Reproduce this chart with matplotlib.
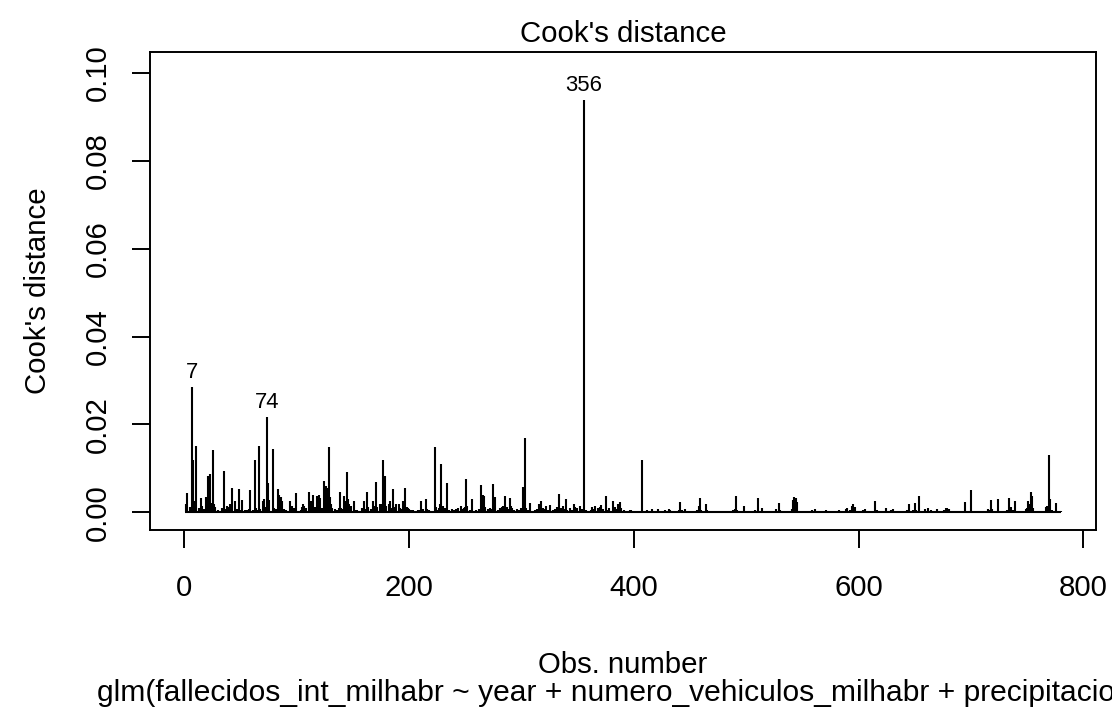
import matplotlib
matplotlib.use('Agg')
import matplotlib.pyplot as plt
import numpy as np

plt.rcParams['font.family'] = ['Liberation Sans', 'DejaVu Sans']

n_obs = 780

# observation number -> Cook's distance (observations not listed are ~0)
spike_obs = [
    2, 3, 5, 7, 8, 9, 11, 13, 15, 16, 18, 20, 21, 23, 24, 26, 27, 28, 30, 32,
    34, 36, 37, 38, 40, 41, 43, 45, 47, 49, 50, 52, 54, 56, 58, 59, 61, 63, 64, 66,
    67, 68, 70, 71, 72, 74, 75, 76, 79, 80, 82, 84, 85, 86, 87, 89, 91, 94, 96, 98,
    100, 102, 104, 105, 106, 107, 109, 111, 112, 113, 115, 117, 118, 119, 120, 121, 123, 125, 126, 127,
    129, 130, 131, 132, 134, 136, 138, 139, 140, 141, 142, 144, 145, 146, 147, 149, 151, 152, 154, 156,
    158, 160, 161, 163, 164, 166, 168, 169, 171, 172, 174, 175, 177, 178, 179, 180, 182, 183, 184, 186,
    187, 189, 191, 192, 194, 195, 197, 198, 199, 200, 202, 204, 206, 208, 209, 211, 213, 215, 216, 218,
    220, 222, 223, 224, 225, 227, 228, 229, 230, 232, 234, 236, 238, 240, 242, 244, 246, 247, 249, 250,
    251, 252, 254, 256, 258, 260, 262, 264, 265, 266, 267, 268, 270, 272, 273, 275, 276, 277, 279, 281,
    283, 284, 286, 287, 288, 290, 291, 292, 294, 296, 298, 300, 302, 303, 304, 306, 308, 310, 312, 314,
    316, 318, 319, 321, 322, 324, 326, 328, 330, 332, 334, 335, 337, 338, 340, 341, 343, 345, 347, 348,
    350, 352, 354, 356, 358, 360, 362, 363, 365, 366, 368, 370, 371, 373, 375, 376, 378, 380, 382, 383,
    385, 386, 388, 389, 391, 393, 395, 397, 398, 400, 402, 404, 407, 408, 410, 412, 414, 416, 418, 420,
    422, 425, 428, 431, 432, 435, 438, 440, 441, 443, 446, 448, 451, 454, 456, 458, 459, 460, 462, 464,
    465, 467, 470, 472, 475, 478, 480, 483, 486, 488, 490, 491, 492, 495, 498, 499, 502, 505, 508, 511,
    512, 514, 516, 519, 522, 525, 527, 529, 530, 533, 536, 539, 541, 542, 543, 544, 545, 547, 550, 553,
    556, 559, 561, 563, 565, 568, 571, 573, 576, 578, 581, 583, 585, 587, 589, 590, 592, 594, 595, 597,
    599, 601, 603, 604, 606, 608, 610, 613, 615, 616, 618, 621, 624, 625, 627, 629, 631, 632, 635, 638,
    641, 643, 645, 646, 648, 650, 651, 654, 655, 657, 659, 660, 662, 664, 666, 668, 670, 672, 674, 676,
    678, 679, 680, 682, 684, 687, 690, 692, 695, 696, 698, 700, 701, 703, 705, 707, 709, 711, 713, 715,
    716, 718, 719, 721, 723, 724, 726, 728, 730, 732, 734, 736, 737, 739, 741, 743, 745, 747, 749, 750,
    751, 752, 753, 754, 755, 757, 759, 761, 763, 765, 767, 768, 769, 770, 772, 774, 776, 778, 779, 780,
]
spike_d = [
    0.0020, 0.0043, 0.0012, 0.0286, 0.0119, 0.0025, 0.0151, 0.0010, 0.0033, 0.0015,
    0.0008, 0.0035, 0.0083, 0.0087, 0.0022, 0.0142, 0.0020, 0.0012, 0.0006, 0.0004,
    0.0010, 0.0093, 0.0008, 0.0015, 0.0012, 0.0018, 0.0055, 0.0025, 0.0008, 0.0052,
    0.0006, 0.0029, 0.0006, 0.0005, 0.0008, 0.0050, 0.0006, 0.0118, 0.0010, 0.0006,
    0.0151, 0.0008, 0.0025, 0.0030, 0.0012, 0.0218, 0.0067, 0.0028, 0.0144, 0.0010,
    0.0008, 0.0054, 0.0040, 0.0035, 0.0026, 0.0008, 0.0005, 0.0025, 0.0015, 0.0010,
    0.0045, 0.0004, 0.0005, 0.0012, 0.0020, 0.0015, 0.0010, 0.0047, 0.0012, 0.0025,
    0.0039, 0.0012, 0.0036, 0.0038, 0.0040, 0.0033, 0.0010, 0.0072, 0.0060, 0.0055,
    0.0149, 0.0035, 0.0020, 0.0010, 0.0008, 0.0006, 0.0010, 0.0047, 0.0010, 0.0008,
    0.0038, 0.0025, 0.0091, 0.0030, 0.0020, 0.0015, 0.0025, 0.0006, 0.0005, 0.0004,
    0.0010, 0.0025, 0.0008, 0.0047, 0.0012, 0.0008, 0.0025, 0.0015, 0.0068, 0.0012,
    0.0020, 0.0020, 0.0119, 0.0030, 0.0083, 0.0015, 0.0020, 0.0025, 0.0010, 0.0054,
    0.0012, 0.0020, 0.0018, 0.0010, 0.0008, 0.0025, 0.0055, 0.0012, 0.0010, 0.0008,
    0.0006, 0.0005, 0.0004, 0.0006, 0.0005, 0.0025, 0.0008, 0.0031, 0.0008, 0.0005,
    0.0004, 0.0004, 0.0148, 0.0012, 0.0006, 0.0010, 0.0020, 0.0111, 0.0015, 0.0010,
    0.0067, 0.0005, 0.0008, 0.0006, 0.0008, 0.0010, 0.0015, 0.0008, 0.0010, 0.0012,
    0.0076, 0.0015, 0.0005, 0.0030, 0.0004, 0.0006, 0.0008, 0.0061, 0.0020, 0.0040,
    0.0038, 0.0012, 0.0008, 0.0010, 0.0008, 0.0065, 0.0015, 0.0034, 0.0006, 0.0010,
    0.0012, 0.0015, 0.0037, 0.0012, 0.0008, 0.0032, 0.0015, 0.0010, 0.0006, 0.0008,
    0.0005, 0.0010, 0.0058, 0.0170, 0.0010, 0.0006, 0.0022, 0.0004, 0.0005, 0.0008,
    0.0018, 0.0025, 0.0010, 0.0008, 0.0015, 0.0006, 0.0016, 0.0005, 0.0008, 0.0012,
    0.0041, 0.0010, 0.0015, 0.0008, 0.0030, 0.0006, 0.0010, 0.0006, 0.0018, 0.0012,
    0.0010, 0.0014, 0.0008, 0.0938, 0.0006, 0.0004, 0.0005, 0.0012, 0.0008, 0.0015,
    0.0010, 0.0012, 0.0017, 0.0008, 0.0038, 0.0005, 0.0010, 0.0004, 0.0026, 0.0012,
    0.0008, 0.0018, 0.0023, 0.0010, 0.0005, 0.0004, 0.0003, 0.0006, 0.0006, 0.0003,
    0.0004, 0.0003, 0.0119, 0.0004, 0.0003, 0.0006, 0.0003, 0.0008, 0.0003, 0.0004,
    0.0008, 0.0003, 0.0005, 0.0008, 0.0006, 0.0003, 0.0004, 0.0006, 0.0023, 0.0005,
    0.0008, 0.0003, 0.0004, 0.0003, 0.0005, 0.0015, 0.0032, 0.0006, 0.0004, 0.0018,
    0.0006, 0.0003, 0.0004, 0.0003, 0.0003, 0.0004, 0.0003, 0.0004, 0.0003, 0.0005,
    0.0008, 0.0036, 0.0005, 0.0003, 0.0014, 0.0004, 0.0003, 0.0004, 0.0006, 0.0033,
    0.0004, 0.0010, 0.0004, 0.0003, 0.0004, 0.0003, 0.0008, 0.0022, 0.0005, 0.0003,
    0.0004, 0.0003, 0.0008, 0.0028, 0.0034, 0.0033, 0.0024, 0.0004, 0.0003, 0.0004,
    0.0003, 0.0005, 0.0008, 0.0003, 0.0004, 0.0003, 0.0006, 0.0003, 0.0004, 0.0003,
    0.0004, 0.0006, 0.0003, 0.0004, 0.0008, 0.0010, 0.0006, 0.0015, 0.0018, 0.0012,
    0.0003, 0.0004, 0.0003, 0.0006, 0.0008, 0.0004, 0.0003, 0.0004, 0.0026, 0.0005,
    0.0003, 0.0004, 0.0010, 0.0003, 0.0004, 0.0005, 0.0008, 0.0003, 0.0004, 0.0003,
    0.0004, 0.0006, 0.0020, 0.0004, 0.0005, 0.0021, 0.0006, 0.0036, 0.0004, 0.0003,
    0.0008, 0.0004, 0.0010, 0.0006, 0.0003, 0.0004, 0.0008, 0.0003, 0.0003, 0.0006,
    0.0009, 0.0010, 0.0008, 0.0004, 0.0003, 0.0003, 0.0004, 0.0003, 0.0024, 0.0004,
    0.0003, 0.0051, 0.0004, 0.0003, 0.0004, 0.0003, 0.0004, 0.0003, 0.0004, 0.0008,
    0.0006, 0.0027, 0.0008, 0.0003, 0.0004, 0.0031, 0.0003, 0.0004, 0.0003, 0.0006,
    0.0033, 0.0012, 0.0005, 0.0026, 0.0004, 0.0003, 0.0004, 0.0003, 0.0008, 0.0010,
    0.0026, 0.0018, 0.0046, 0.0037, 0.0010, 0.0004, 0.0003, 0.0004, 0.0003, 0.0004,
    0.0012, 0.0015, 0.0131, 0.0031, 0.0005, 0.0003, 0.0021, 0.0004, 0.0003, 0.0002,
]
labelled = [7, 74, 356]
x_ticks = [0, 200, 400, 600, 800]
y_ticks = [0.00, 0.02, 0.04, 0.06, 0.08, 0.10]
fit_call = 'glm(fallecidos_int_milhabr ~ year + numero_vehiculos_milhabr + precipitacio ...'

obs = np.arange(1, n_obs + 1)
cook = np.zeros(n_obs)
cook[np.array(spike_obs) - 1] = spike_d

W, H = 1112, 708
fs = 21.2
lw = 1.4

fig = plt.figure(figsize=(W / 100, H / 100), dpi=100)
ax = fig.add_axes([150 / W, 1 - 530 / H, (1096 - 150) / W, (530 - 51.7) / H])

ax.vlines(obs, 0, cook, color='black', lw=1.5)
ax.hlines(0, obs[0], obs[-1], color='black', lw=1.5)

# same padding rules as R's plot.lm
xr = obs[-1] - obs[0]
ax.set_xlim(obs[0] - 0.04 * xr, obs[-1] + 0.04 * xr)
ymx = cook.max() * 1.075
ax.set_ylim(-0.04 * ymx, ymx * 1.04)

for i in labelled:
    ax.annotate(str(i), (i, cook[i - 1]), xytext=(0, 6.5), textcoords='offset points',
                ha='center', va='baseline', fontsize=fs * 0.75)

for s in ax.spines.values():
    s.set_linewidth(lw)
ax.set_xticks(x_ticks)
ax.set_xticklabels([str(t) for t in x_ticks], fontsize=fs)
ax.set_yticks(y_ticks)
ax.set_yticklabels([f'{t:.2f}' for t in y_ticks], fontsize=fs, rotation=90, va='center')
ax.tick_params(axis='both', direction='out', length=13, width=lw)
ax.tick_params(axis='x', pad=19)
ax.tick_params(axis='y', pad=14.5)

cx = (150 + 1096) / 2 / W
fig.text(cx, 1 - 42 / H, "Cook's distance", ha='center', va='baseline', fontsize=fs)
fig.text(46 / W, 1 - 291 / H, "Cook's distance", ha='center', va='baseline',
         rotation=90, rotation_mode='anchor', fontsize=fs)
fig.text(cx, 1 - 673 / H, 'Obs. number', ha='center', va='baseline', fontsize=fs)
fig.text(cx, 1 - 701 / H, fit_call, ha='center', va='baseline', fontsize=21.6)

fig.savefig('out.png', dpi=100, facecolor='white')
